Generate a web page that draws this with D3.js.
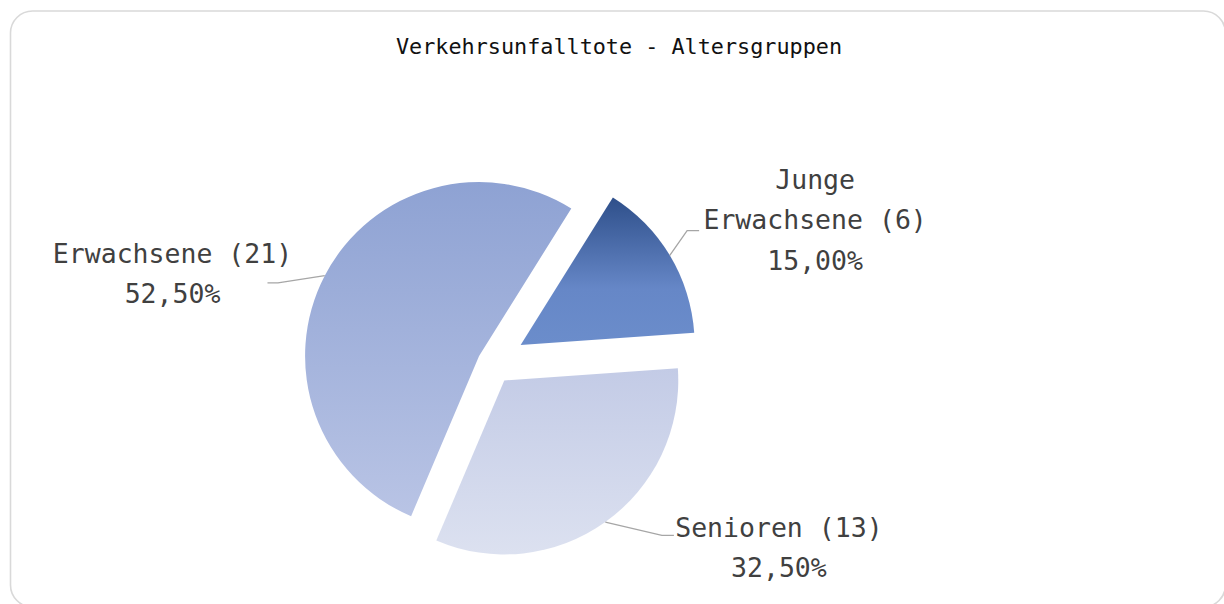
<!DOCTYPE html>
<html>
<head>
<meta charset="utf-8">
<script src="https://cdn.jsdelivr.net/npm/d3@7"></script>
<style>
  html, body { margin: 0; padding: 0; background: #ffffff; }
  svg { display: block; }
</style>
</head>
<body>
<script>
// ---- data ----
const title = "Verkehrsunfalltote - Altersgruppen";
const categories = ["Junge Erwachsene", "Senioren", "Erwachsene"];
const counts = [6, 13, 21];

// ---- styles / layout ----
const W = 1224, H = 604;
const gradients = [
  [[0, "#2e4f8a"], [0.62, "#6687c7"], [1, "#6b8dcb"]],
  [[0, "#c3cbe6"], [1, "#dce1f0"]],
  [[0, "#8ea2d3"], [1, "#b9c4e5"]]
];
const explode = [34, 22, 14];
const center = { x: 491.5, y: 362.5 };
const radius = 174;
const startDeg = 32;
// label layout relative to each slice centre: elbow polar (deg, r), hook length, text offset from hook end
const labelLayout = [
  { elbowDeg: 55.5, elbowR: 202, hook: 12, dx: 116, dy: -42 },
  { elbowDeg: 134.5, elbowR: 221, hook: 12, dx: 105, dy: 1.5 },
  { elbowDeg: 290, elbowR: 214, hook: -10.5, dx: -95, dy: -20 }
];
const lineH = 40.5;

const svg = d3.select("body").append("svg").attr("width", W).attr("height", H);

svg.append("rect")
  .attr("x", 10.5).attr("y", 11)
  .attr("width", 1215).attr("height", 596)
  .attr("rx", 22).attr("ry", 22)
  .attr("fill", "#ffffff")
  .attr("stroke", "#d9d9d9")
  .attr("stroke-width", 1.6);

svg.append("text")
  .attr("x", 619).attr("y", 54)
  .attr("text-anchor", "middle")
  .attr("font-family", "'DejaVu Sans Mono', monospace")
  .attr("font-size", 21.8)
  .attr("fill", "#111111")
  .text(title);

const defs = svg.append("defs");
gradients.forEach((stops, i) => {
  const g = defs.append("linearGradient")
    .attr("id", "grad" + i)
    .attr("x1", 0).attr("y1", 0).attr("x2", 0).attr("y2", 1);
  stops.forEach(s => g.append("stop").attr("offset", s[0]).attr("stop-color", s[1]));
});

const total = d3.sum(counts);
const rad = d => d * Math.PI / 180;
const pie = d3.pie().sort(null)
  .startAngle(rad(startDeg)).endAngle(rad(startDeg) + 2 * Math.PI);
const arcs = pie(counts);
const arc = d3.arc().innerRadius(0).outerRadius(radius);

const fmtPct = v => d3.format(".2f")(v * 100).replace(".", ",") + "%";

arcs.forEach((a, i) => {
  const mid = (a.startAngle + a.endAngle) / 2;
  const cx = center.x + explode[i] * Math.sin(mid);
  const cy = center.y - explode[i] * Math.cos(mid);
  const g = svg.append("g").attr("transform", `translate(${cx},${cy})`);
  g.append("path").attr("d", arc(a)).attr("fill", `url(#grad${i})`);

  // leader line
  const L = labelLayout[i];
  const p0 = [radius * Math.sin(mid), -radius * Math.cos(mid)];
  const p1 = [L.elbowR * Math.sin(rad(L.elbowDeg)), -L.elbowR * Math.cos(rad(L.elbowDeg))];
  const p2 = [p1[0] + L.hook, p1[1]];
  g.append("path")
    .attr("d", d3.line()([p0, p1, p2]))
    .attr("fill", "none")
    .attr("stroke", "#a6a6a6")
    .attr("stroke-width", 1.3);

  // label
  const name = categories[i];
  const sp = name.indexOf(" ");
  const lines = sp > 0
    ? [name.slice(0, sp), name.slice(sp + 1) + " (" + counts[i] + ")"]
    : [name + " (" + counts[i] + ")"];
  lines.push(fmtPct(counts[i] / total));
  const t = g.append("text")
    .attr("text-anchor", "middle")
    .attr("font-family", "'DejaVu Sans Mono', monospace")
    .attr("font-size", 26.5)
    .attr("fill", "#404040");
  lines.forEach((s, k) => {
    t.append("tspan")
      .attr("x", p2[0] + L.dx)
      .attr("y", p2[1] + L.dy + k * lineH)
      .text(s);
  });
});
</script>
</body>
</html>
